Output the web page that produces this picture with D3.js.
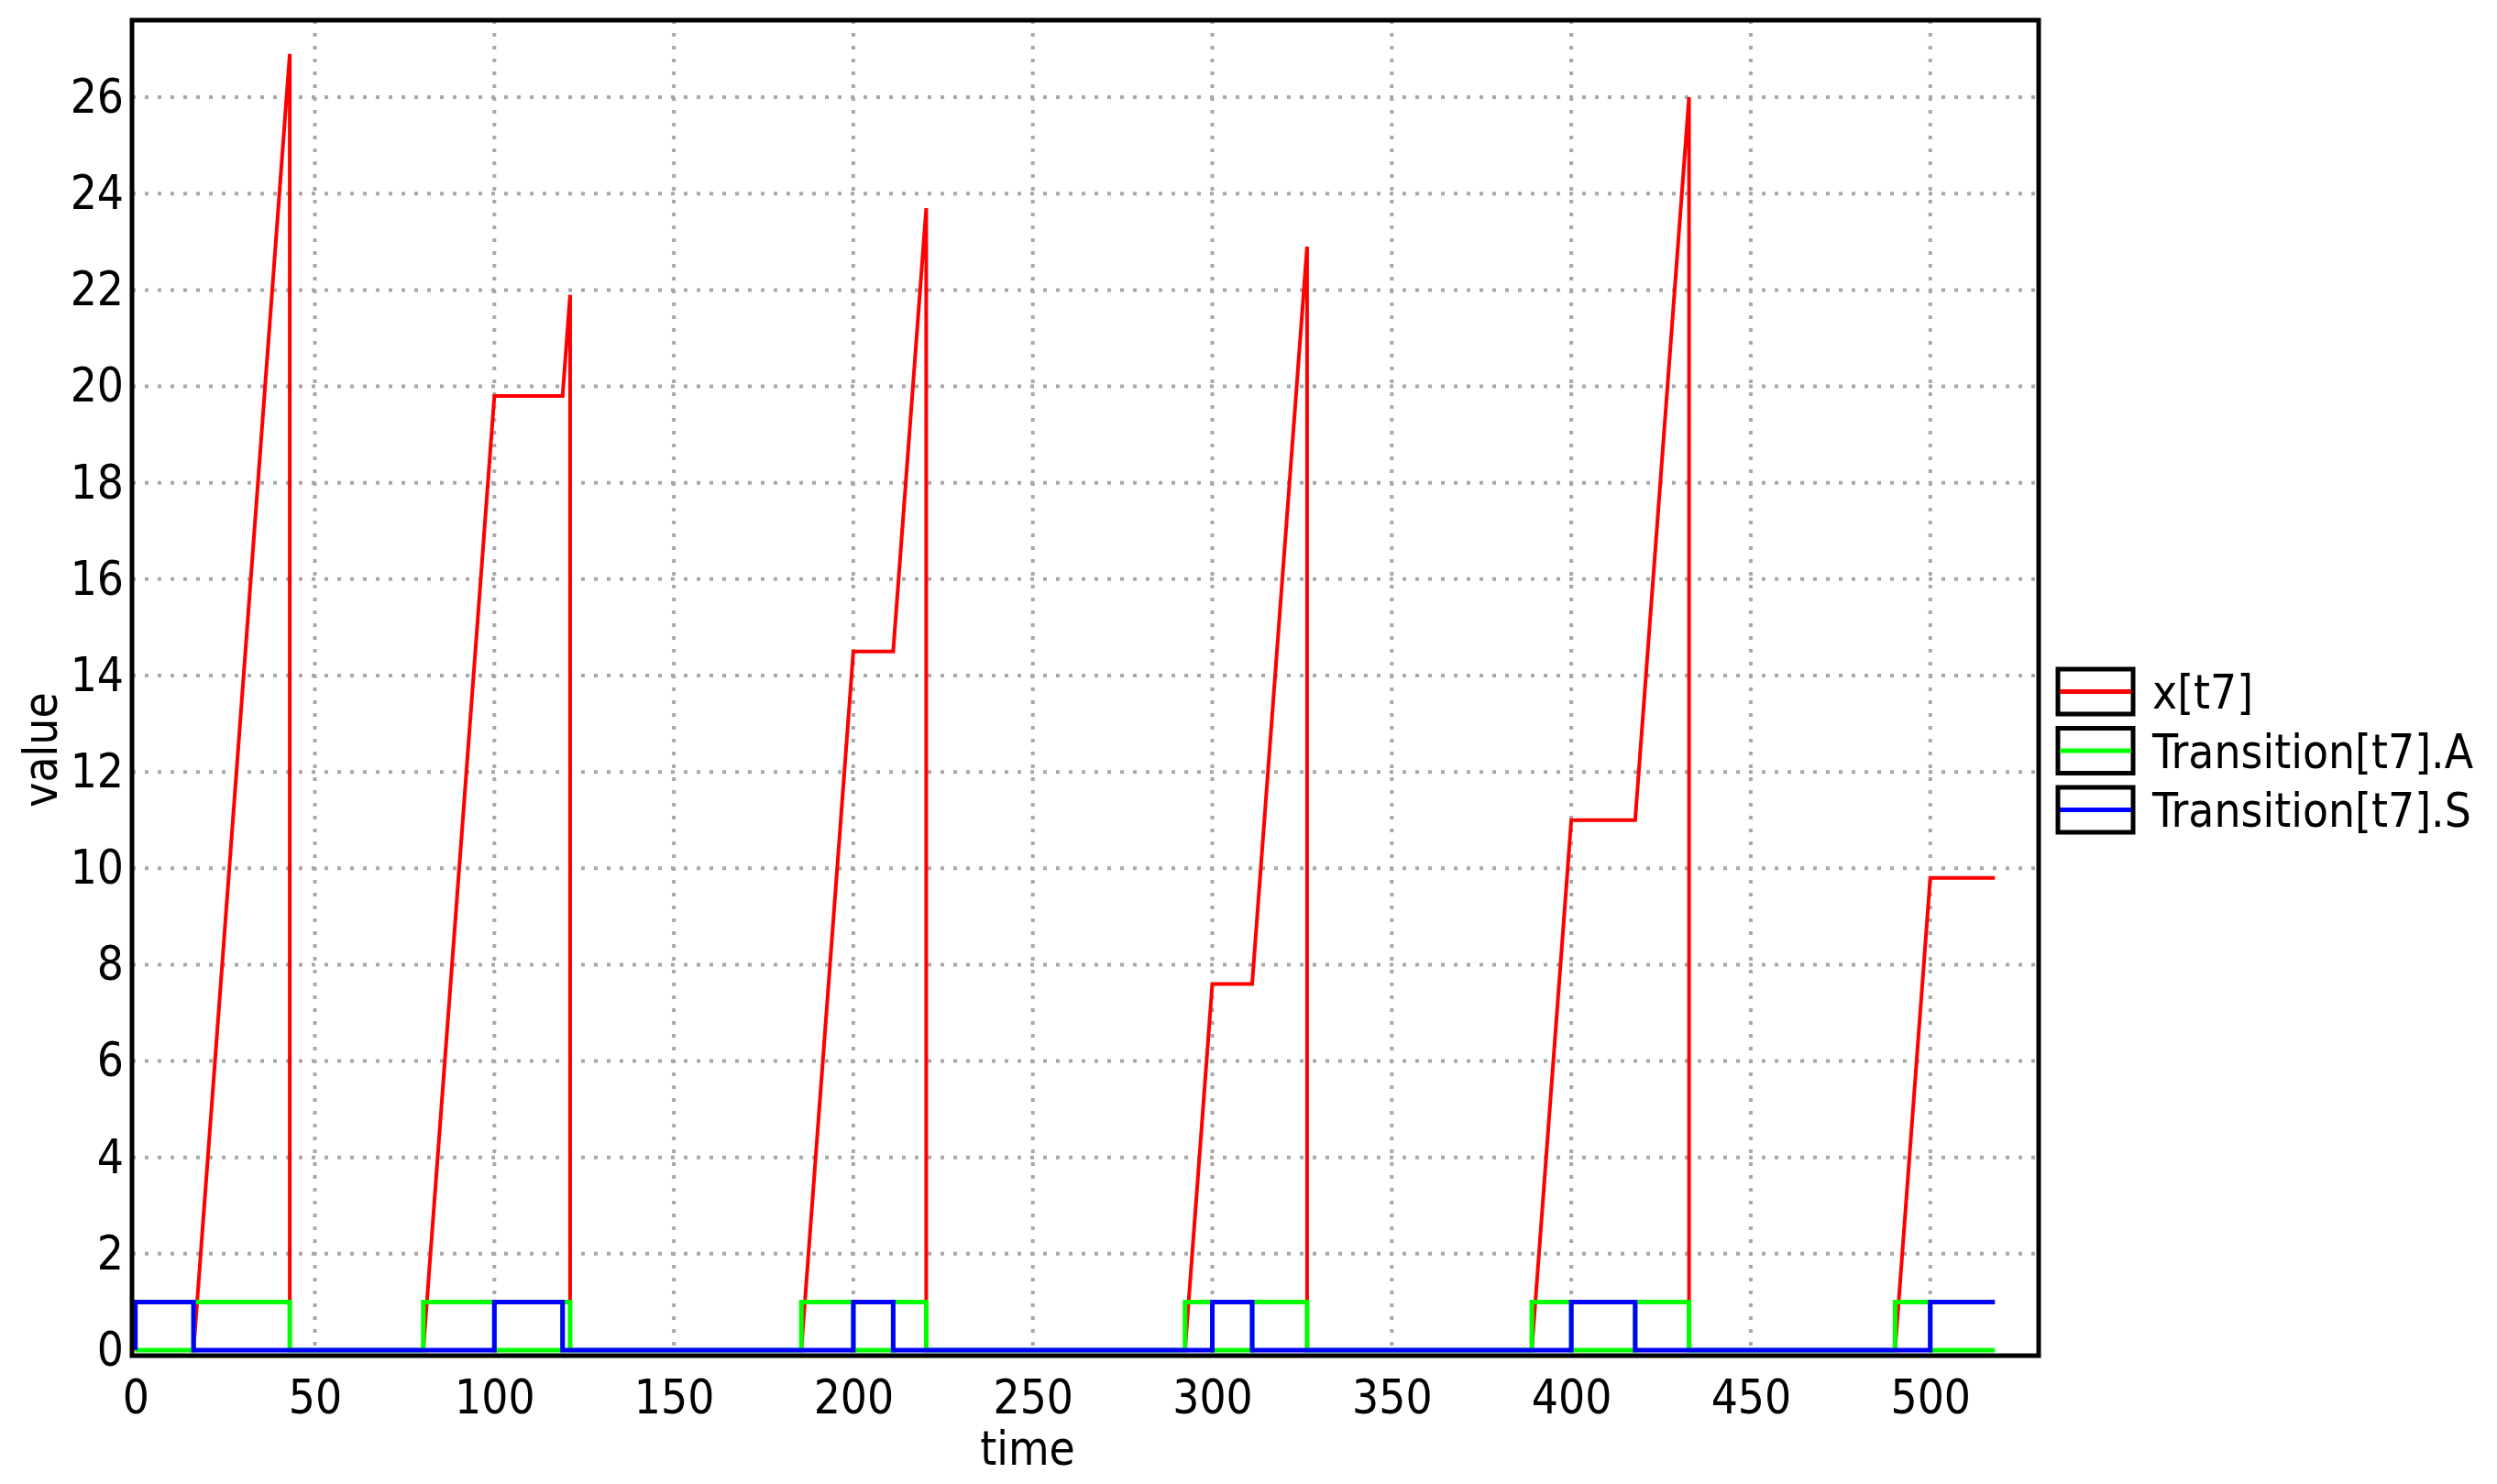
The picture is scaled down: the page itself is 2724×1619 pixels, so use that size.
<!DOCTYPE html>
<html>
<head>
  <title>x[t7] over time</title>
  <script src="https://d3js.org/d3.v7.min.js" charset="utf-8"></script>
  <style>
    body { margin: 0; background: white; }
    text { font-family: "DejaVu Sans Condensed", "DejaVu Sans", sans-serif; font-stretch: condensed; fill: black; }
  </style>
</head>
<body>
<script>
// clock x[t7]
var xTimes = [0, 16.2, 43.0, 43.0, 80.2, 100, 119, 121.1, 121.1, 185.5, 200, 211.1, 220.3, 220.3,
              292.4, 300, 311.1, 326.4, 326.4, 389, 400, 417.8, 432.8, 432.8, 490.2, 500, 518];
var xValues = [0, 0, 26.9, 0, 0, 19.8, 19.8, 21.9, 0, 0, 14.5, 14.5, 23.7, 0,
               0, 7.6, 7.6, 22.9, 0, 0, 11.0, 11.0, 26.0, 0, 0, 9.8, 9.8];

// Transition[t7].A (step after each time)
var aTimes = [0, 16.2, 43.0, 80.2, 100, 119, 121.1, 185.5, 200, 211.1, 220.3, 292.4, 300, 311.1,
              326.4, 389, 400, 417.8, 432.8, 490.2, 500, 518];
var aValues = [0, 1, 0, 1, 0, 1, 0, 1, 0, 1, 0, 1, 0, 1,
               0, 1, 0, 1, 0, 1, 0, 0];

// Transition[t7].S (step after each time)
var sTimes = [0, 0, 16.2, 100, 119, 200, 211.1, 300, 311.1, 400, 417.8, 500, 518];
var sValues = [0, 1, 0, 1, 0, 1, 0, 1, 0, 1, 0, 1, 1];

var seriesNames = ["x[t7]", "Transition[t7].A", "Transition[t7].S"];
var seriesColors = ["#ff0000", "#00ff00", "#0000ff"];

var yTicks = d3.range(0, 27, 2);
var xTicks = d3.range(0, 501, 50);

var width = 2724;
var height = 1619;
var plotLeft = 144, plotRight = 2224, plotTop = 22, plotBottom = 1479;

var svg = d3.select("body")
    .append("svg")
    .attr("width", width)
    .attr("height", height);

svg.append("rect")
    .attr("width", width)
    .attr("height", height)
    .attr("fill", "white");

var x = d3.scaleLinear()
    .domain([-0.95, 530.2])
    .range([plotLeft, plotRight]);

var y = d3.scaleLinear()
    .domain([-0.114, 27.6])
    .range([plotBottom, plotTop]);

// dotted grid
svg.append("g")
    .selectAll("line")
    .data(yTicks.filter(function(d) { return d > 0; }))
    .enter()
    .append("line")
    .attr("x1", plotLeft)
    .attr("x2", plotRight)
    .attr("y1", function(d) { return y(d); })
    .attr("y2", function(d) { return y(d); })
    .attr("stroke", "#a8a8a8")
    .attr("stroke-width", 4)
    .attr("stroke-dasharray", "4 10");

svg.append("g")
    .selectAll("line")
    .data(xTicks.filter(function(d) { return d > 0; }))
    .enter()
    .append("line")
    .attr("x1", function(d) { return x(d); })
    .attr("x2", function(d) { return x(d); })
    .attr("y1", plotTop)
    .attr("y2", plotBottom)
    .attr("stroke", "#a8a8a8")
    .attr("stroke-width", 4)
    .attr("stroke-dasharray", "4 10");

var linePath = d3.line()
    .x(function(d) { return x(d[0]); })
    .y(function(d) { return y(d[1]); });

var stepPath = d3.line()
    .x(function(d) { return x(d[0]); })
    .y(function(d) { return y(d[1]); })
    .curve(d3.curveStepAfter);

var xData = d3.zip(xTimes, xValues);
var aData = d3.zip(aTimes, aValues);
var sData = d3.zip(sTimes, sValues);

svg.append("path")
    .attr("d", linePath(xData))
    .attr("fill", "none")
    .attr("stroke", seriesColors[0])
    .attr("stroke-width", 4)
    .attr("stroke-linejoin", "miter");

svg.append("path")
    .attr("d", stepPath(aData))
    .attr("fill", "none")
    .attr("stroke", seriesColors[1])
    .attr("stroke-width", 5)
    .attr("stroke-linejoin", "miter");

svg.append("path")
    .attr("d", stepPath(sData))
    .attr("fill", "none")
    .attr("stroke", seriesColors[2])
    .attr("stroke-width", 5)
    .attr("stroke-linejoin", "miter");

// frame
svg.append("rect")
    .attr("x", plotLeft)
    .attr("y", plotTop)
    .attr("width", plotRight - plotLeft)
    .attr("height", plotBottom - plotTop)
    .attr("fill", "none")
    .attr("stroke", "black")
    .attr("stroke-width", 5);

// axes
var yAxis = d3.axisLeft(y)
    .tickValues(yTicks)
    .tickSize(0)
    .tickPadding(9);

var xAxis = d3.axisBottom(x)
    .tickValues(xTicks)
    .tickSize(0)
    .tickPadding(27);

var gy = svg.append("g")
    .attr("transform", "translate(" + plotLeft + ",0)")
    .call(yAxis);

var gx = svg.append("g")
    .attr("transform", "translate(0," + plotBottom + ")")
    .call(xAxis);

[gx, gy].forEach(function(g) {
  g.select(".domain").remove();
  g.selectAll("text")
   .attr("font-size", 51)
   .attr("font-family", null)
   .attr("fill", "black");
});

svg.append("text")
    .attr("x", 1121)
    .attr("y", 1598)
    .attr("text-anchor", "middle")
    .attr("font-size", 51)
    .text("time");

svg.append("text")
    .attr("transform", "translate(62,818) rotate(-90)")
    .attr("text-anchor", "middle")
    .attr("font-size", 51)
    .text("value");

// legend
var legend = svg.append("g");

legend.selectAll("rect")
    .data(seriesNames)
    .enter()
    .append("rect")
    .attr("x", 2245)
    .attr("y", function(d, i) { return 730 + i * 64.5; })
    .attr("width", 82)
    .attr("height", 49)
    .attr("fill", "white")
    .attr("stroke", "black")
    .attr("stroke-width", 5);

legend.selectAll("line")
    .data(seriesNames)
    .enter()
    .append("line")
    .attr("x1", 2247)
    .attr("x2", 2325)
    .attr("y1", function(d, i) { return 754.5 + i * 64.5; })
    .attr("y2", function(d, i) { return 754.5 + i * 64.5; })
    .attr("stroke", function(d, i) { return seriesColors[i]; })
    .attr("stroke-width", 5);

legend.selectAll("text")
    .data(seriesNames)
    .enter()
    .append("text")
    .attr("x", 2348)
    .attr("y", function(d, i) { return 773 + i * 64.5; })
    .attr("font-size", 51)
    .text(function(d) { return d; });
</script>
</body>
</html>
